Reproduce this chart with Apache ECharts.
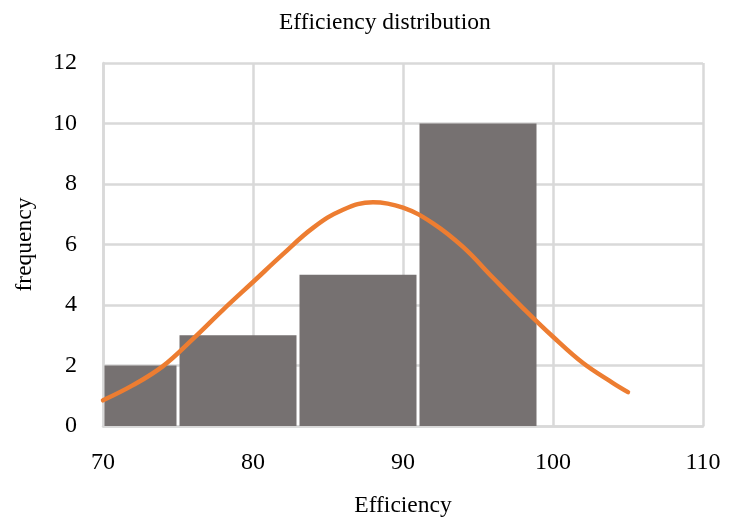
<!DOCTYPE html>
<html>
<head>
<meta charset="utf-8">
<script src="https://cdn.jsdelivr.net/npm/echarts@6/dist/echarts.min.js"></script>
<style>html,body{margin:0;padding:0;background:#fff}#c{width:729px;height:523px}</style>
</head>
<body>
<div id="c"></div>
<script>
/* Efficiency histogram + fitted normal curve */
const binStart = [70, 75, 83, 91];
const binEnd = [75, 83, 91, 99];
const binCount = [2, 3, 5, 10];
const curveX = [70, 72, 74, 76, 78, 80, 82, 84, 86, 88, 90, 92, 94, 96, 98, 100, 102, 104, 105];
const curveY = [0.85, 1.35, 1.98, 2.88, 3.84, 4.76, 5.68, 6.55, 7.15, 7.4, 7.22, 6.7, 5.92, 4.9, 3.9, 2.95, 2.08, 1.42, 1.12];

const FONT = '"Liberation Serif", "DejaVu Serif", serif';
const GRID = '#d9d9d9';
const chart = echarts.init(document.getElementById('c'), null, { renderer: 'canvas' });

chart.setOption({
  animation: false,
  title: { text: 'Efficiency distribution', left: 274, top: 6, textStyle: { fontFamily: FONT, fontWeight: 'normal', fontSize: 23.5, color: '#000' } },
  grid: { left: 103, right: 26, top: 63, bottom: 96 },
  xAxis: {
    type: 'value', min: 70, max: 110, interval: 10,
    name: 'Efficiency', nameLocation: 'middle', nameGap: 68,
    nameTextStyle: { fontFamily: FONT, fontSize: 23.5, color: '#000' },
    axisLine: { show: true, lineStyle: { color: GRID, width: 2.5 } }, axisTick: { show: false },
    axisLabel: { fontFamily: FONT, fontSize: 24, color: '#000', margin: 25 },
    splitLine: { show: true, lineStyle: { color: GRID, width: 2.5 } },
  },
  yAxis: {
    type: 'value', min: 0, max: 12, interval: 2,
    name: 'frequency', nameLocation: 'middle', nameGap: 66,
    nameTextStyle: { fontFamily: FONT, fontSize: 23.5, color: '#000' },
    axisLine: { show: true, lineStyle: { color: GRID, width: 2.5 } }, axisTick: { show: false },
    axisLabel: { fontFamily: FONT, fontSize: 24, color: '#000', margin: 26 },
    splitLine: { show: true, lineStyle: { color: GRID, width: 2.5 } },
  },
  series: [
    {
      type: 'custom', z: 2,
      encode: { x: [0, 1], y: 2 },
      data: binStart.map((s, i) => [s, binEnd[i], binCount[i]]),
      renderItem: (params, api) => {
        const a = api.coord([api.value(0), api.value(2)]);
        const b = api.coord([api.value(1), 0]);
        return { type: 'rect', shape: { x: a[0] + 1.5, y: a[1], width: b[0] - a[0] - 3, height: b[1] - a[1] }, style: { fill: '#767171' } };
      },
    },
    {
      type: 'line', z: 3, smooth: 0.4, symbol: 'none',
      data: curveX.map((x, i) => [x, curveY[i]]),
      lineStyle: { color: '#ED7D31', width: 4.5, cap: 'round' },
    },
  ],
});
</script>
</body>
</html>
